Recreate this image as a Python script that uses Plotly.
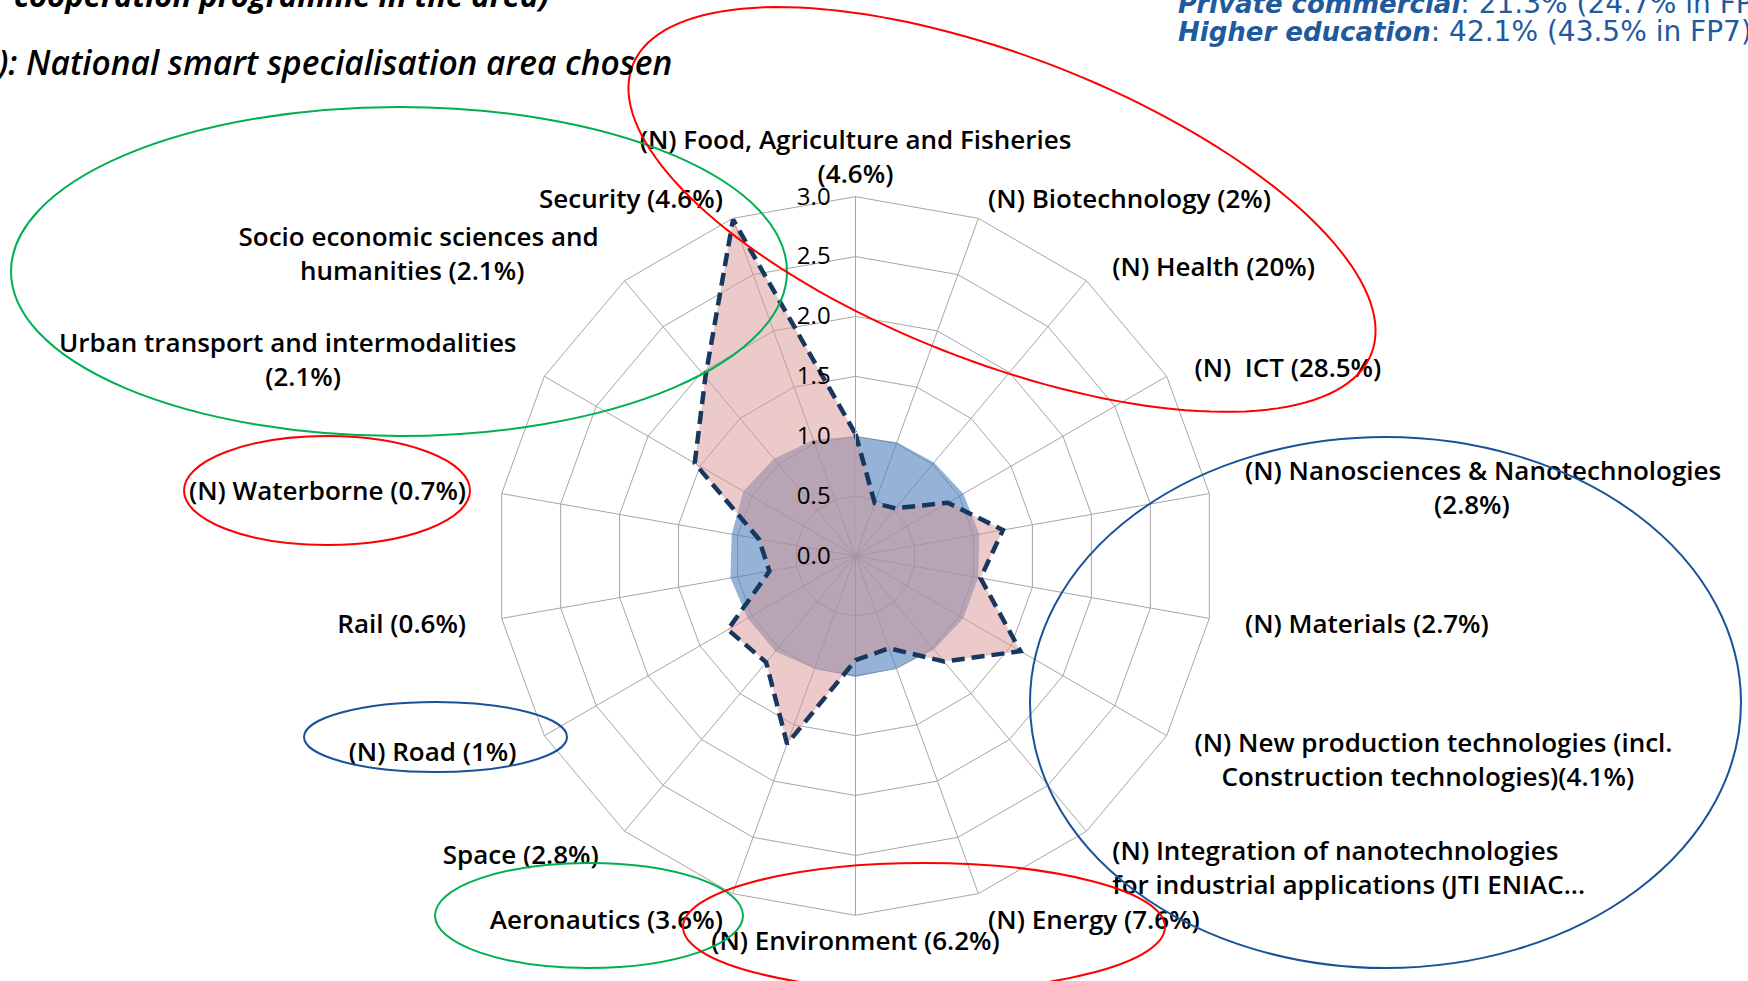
import numpy as np
import plotly.graph_objects as go

W, H = 1748, 981

# ---------------- data ----------------
categories = [
    "(N) Food, Agriculture and Fisheries<br>(4.6%)",
    "(N) Biotechnology (2%)",
    "(N) Health (20%)",
    "(N)  ICT (28.5%)",
    "(N) Nanosciences & Nanotechnologies<br>(2.8%)",
    "(N) Materials (2.7%)",
    "(N) New production technologies (incl.<br>Construction technologies)(4.1%)",
    "(N) Integration of nanotechnologies<br>for industrial applications (JTI ENIAC...",
    "(N) Energy (7.6%)",
    "(N) Environment (6.2%)",
    "Aeronautics (3.6%)",
    "Space (2.8%)",
    "(N) Road (1%)",
    "Rail (0.6%)",
    "(N) Waterborne (0.7%)",
    "Urban transport and intermodalities<br>(2.1%)",
    "Socio economic sciences and<br>humanities (2.1%)",
    "Security (4.6%)",
]
reference_values = [1.00, 1.01, 1.02, 1.04, 1.05, 1.04, 1.04, 1.02, 1.00,
                    1.01, 1.00, 1.04, 1.04, 1.06, 1.05, 1.08, 1.06, 1.03]
country_values = [1.02, 0.47, 0.52, 0.89, 1.25, 1.06, 1.59, 1.15, 0.82,
                  0.87, 1.67, 1.16, 1.23, 0.73, 0.82, 1.55, 1.95, 2.99]
radial_ticks = [0.0, 0.5, 1.0, 1.5, 2.0, 2.5, 3.0]

title_line1 = "cooperation programme in the area)"
title_line2 = "(N): National smart specialisation area chosen"
info_line1 = ("<b><i>Private commercial</i></b>",
              ": 21.3% (24.7% in FP7)")
info_line2 = ("<b><i>Higher education</i></b>",
              ": 42.1% (43.5% in FP7)")

# ---------------- label layout helpers (cosmetic only) ----------------
NB = "\u00a0"
SPACE_EM = 0.26


def est_width(s):
    w = 0.0
    for ch in s:
        if ch in " \u00a0":
            w += 0.26
        elif ch in "iljI.,:;!|'":
            w += 0.27
        elif ch in "ftr()[]J":
            w += 0.36
        elif ch in "mwMW%":
            w += 0.9
        elif ch.isupper():
            w += 0.68
        else:
            w += 0.57
    return w


def layout_label(label, idx, n):
    ang = np.radians(idx * 360.0 / n)
    s = np.sin(ang)
    lines = label.split("<br>")
    w_first = est_width(lines[0])
    side_pad = NB * int(round(3.9 * abs(s)))
    out = []
    for k, l in enumerate(lines):
        w = est_width(l)
        # later lines are centred under the first one when shorter
        c = NB * int(round((w_first - w) / 2 / SPACE_EM)) if (k > 0 and w < w_first) else ""
        if s > 0.1:      # right side: text starts at the anchor
            out.append(side_pad + c + l)
        elif s < -0.1:   # left side: text ends at the anchor
            out.append(l + c + side_pad)
        else:
            out.append(l)
    return "<br>".join(out)


tick_text = [layout_label(c, i, len(categories)) for i, c in enumerate(categories)]

# ---------------- figure ----------------
def closed(v):
    return list(v) + [v[0]]

fig = go.Figure()
fig.add_trace(go.Scatterpolar(
    r=closed(reference_values), theta=closed(categories),
    mode="lines", fill="toself",
    fillcolor="rgba(79,129,189,0.6)",
    line=dict(width=0, color="rgba(79,129,189,0.6)"),
    hoverinfo="skip", showlegend=False,
))
fig.add_trace(go.Scatterpolar(
    r=closed(country_values), theta=closed(categories),
    mode="lines", fill="toself",
    fillcolor="rgba(217,150,148,0.5)",
    line=dict(width=4.5, color="#17375E", dash="13px,7px"),
    hoverinfo="skip", showlegend=False,
))

cx, cy, R = 855.5, 556.0, 359.3
label_font = dict(family="Open Sans, Lato, sans-serif", size=26, color="#000000",
                  weight=600)

fig.update_layout(
    width=W, height=H,
    margin=dict(l=0, r=0, t=0, b=0),
    paper_bgcolor="white",
    plot_bgcolor="white",
    showlegend=False,
    polar=dict(
        domain=dict(x=[(cx - R) / W, (cx + R) / W],
                    y=[1 - (cy + R) / H, 1 - (cy - R) / H]),
        bgcolor="white",
        gridshape="linear",
        angularaxis=dict(
            type="category",
            categoryarray=categories,
            tickvals=categories,
            ticktext=tick_text,
            rotation=90,
            direction="clockwise",
            showgrid=True,
            gridcolor="#A6A6A6",
            gridwidth=1,
            showline=True,
            linecolor="#A6A6A6",
            linewidth=1,
            ticks="outside",
            ticklen=3,
            tickcolor="rgba(0,0,0,0)",
            tickfont=label_font,
        ),
        radialaxis=dict(
            range=[0, 3],
            tickvals=radial_ticks,
            tickformat=".1f",
            angle=90,
            tickangle=90,
            side="counterclockwise",
            showgrid=True,
            gridcolor="#A6A6A6",
            gridwidth=1,
            showline=True,
            linecolor="#A6A6A6",
            linewidth=1,
            ticks="outside",
            ticklen=16,
            tickcolor="rgba(0,0,0,0)",
            tickfont=dict(family="Open Sans, Lato, sans-serif", size=24, color="#000000"),
        ),
    ),
)

def px(x):
    return x / W

def py(y):
    return 1 - y / H

shapes = []
# axis-aligned ellipses (x0, y0, x1, y1 in pixels) with colour
ellipses = [
    (11, 107, 787, 436, "#00B050"),
    (184, 436, 470, 545, "#FF0000"),
    (304, 702, 567, 772, "#1A5299"),
    (435, 863, 743, 968, "#00B050"),
    (683, 863, 1165, 991, "#FF0000"),
    (1030, 437, 1741, 968, "#1A5299"),
]
for x0, y0, x1, y1, col in ellipses:
    shapes.append(dict(type="circle", xref="paper", yref="paper",
                       x0=px(x0), x1=px(x1), y0=py(y1), y1=py(y0),
                       line=dict(color=col, width=2), layer="above"))

# tilted ellipse (centre, semi-axes, rotation)
ecx, ecy, ea, eb, eth = 1002, 209.5, 396.5, 152.6, np.radians(21.3)
t = np.linspace(0, 2 * np.pi, 160)
ex = ecx + ea * np.cos(t) * np.cos(eth) - eb * np.sin(t) * np.sin(eth)
ey = ecy + ea * np.cos(t) * np.sin(eth) + eb * np.sin(t) * np.cos(eth)
path = "M " + " L ".join(f"{px(a):.5f},{py(b):.5f}" for a, b in zip(ex, ey)) + " Z"
shapes.append(dict(type="path", xref="paper", yref="paper", path=path,
                   line=dict(color="#FF0000", width=2), layer="above"))
fig.update_layout(shapes=shapes)

title_font = dict(family="Open Sans, Lato, sans-serif", size=31, color="#000000")
title_font2 = dict(family="Open Sans, Lato, sans-serif", size=33.5, color="#000000",
                   weight=600)
info_font = dict(family="DejaVu Sans, Verdana, sans-serif", size=26, color="#1F5A9E")
fig.add_annotation(text=f"<b><i>{title_line1}</i></b>", xref="paper", yref="paper",
                   x=px(12), y=py(18), xanchor="left", yanchor="bottom",
                   showarrow=False, font=title_font)
fig.add_annotation(text=f"<i>{title_line2}</i>", xref="paper", yref="paper",
                   x=px(674), y=py(62), xanchor="right", yanchor="middle",
                   showarrow=False, font=title_font2)
for (bold, rest), yy in ((info_line1, 3), (info_line2, 31)):
    fig.add_annotation(text=f"{bold}<span style='font-size:28px'>{rest}</span>",
                       xref="paper", yref="paper",
                       x=px(1176), y=py(yy), xanchor="left", yanchor="middle",
                       showarrow=False, font=info_font)

fig.write_html("out.html", config={"displayModeBar": False},
               post_script="document.body.style.margin='0px';")
